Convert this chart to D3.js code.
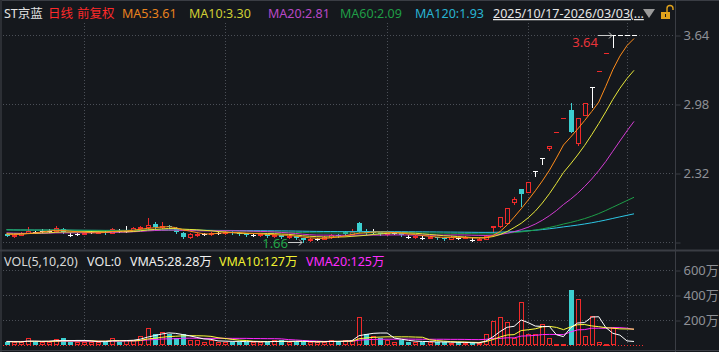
<!DOCTYPE html>
<html lang="zh">
<head>
<meta charset="UTF-8">
<title>ST京蓝 日线</title>
<script src="https://d3js.org/d3.v7.min.js"></script>
<style>
  html, body { margin: 0; padding: 0; background: #15181d; }
  svg { display: block; font-family: "Noto Sans", "Noto Sans CJK SC", sans-serif; }
</style>
</head>
<body>
<div id="chart"></div>
<script>
// daily bars 2025/10/17 - 2026/03/03 (前复权), volume in 万股
var opens = [1.74,1.72,1.73,1.75,1.76,1.77,1.77,1.77,1.78,1.73, 1.74,1.74,1.76,1.75,1.76,1.75,1.77,1.77,1.77,1.79,
             1.80,1.83,1.80,1.81,1.79,1.75,1.71,1.73,1.74,1.74, 1.75,1.75,1.76,1.75,1.74,1.73,1.73,1.74,1.72,1.73,
             1.71,1.72,1.70,1.68,1.69,1.69,1.71,1.73,1.76,1.74, 1.84,1.77,1.76,1.76,1.74,1.75,1.75,1.71,1.71,1.70,
             1.70,1.71,1.70,1.69,1.70,1.70,1.68,1.68,1.69,1.80, 1.81,1.84,2.04,2.17,2.14,2.34,2.46,2.56,2.71,2.85,
             2.92,2.61,2.87,3.14,3.30,3.47,3.64,3.64,3.64,3.64];
var highs = [1.75,1.74,1.76,1.80,1.77,1.78,1.78,1.81,1.79,1.75, 1.75,1.76,1.77,1.77,1.77,1.79,1.78,1.81,1.80,1.81,
             1.89,1.85,1.85,1.82,1.80,1.76,1.75,1.75,1.75,1.76, 1.76,1.77,1.77,1.76,1.75,1.74,1.75,1.74,1.74,1.73,
             1.73,1.72,1.70,1.70,1.70,1.72,1.74,1.74,1.77,1.78, 1.85,1.78,1.78,1.76,1.76,1.76,1.75,1.73,1.73,1.72,
             1.72,1.71,1.70,1.72,1.71,1.72,1.70,1.70,1.73,1.81, 1.90,1.99,2.09,2.17,2.23,2.34,2.46,2.58,2.71,2.85,
             2.99,2.85,2.99,3.14,3.30,3.47,3.64,3.64,3.64,3.64];
var lows = [1.72,1.71,1.73,1.75,1.75,1.76,1.76,1.77,1.75,1.72, 1.73,1.74,1.75,1.75,1.74,1.75,1.76,1.76,1.77,1.78,
            1.79,1.79,1.79,1.79,1.75,1.70,1.70,1.72,1.73,1.73, 1.74,1.74,1.74,1.73,1.72,1.72,1.72,1.71,1.71,1.70,
            1.70,1.69,1.66,1.67,1.68,1.69,1.70,1.71,1.73,1.74, 1.76,1.74,1.75,1.73,1.73,1.74,1.72,1.70,1.70,1.69,
            1.70,1.69,1.68,1.69,1.69,1.70,1.67,1.68,1.69,1.76, 1.80,1.84,2.02,2.00,2.14,2.29,2.41,2.54,2.71,2.85,
            2.71,2.59,2.87,2.95,3.30,3.47,3.53,3.64,3.64,3.64];
var closes = [1.72,1.73,1.75,1.77,1.76,1.77,1.77,1.79,1.76,1.73, 1.74,1.75,1.76,1.76,1.75,1.78,1.77,1.77,1.79,1.80,
              1.82,1.80,1.81,1.80,1.76,1.71,1.74,1.74,1.74,1.75, 1.75,1.76,1.75,1.74,1.73,1.73,1.74,1.72,1.73,1.71,
              1.72,1.70,1.68,1.69,1.69,1.71,1.73,1.72,1.74,1.76, 1.77,1.75,1.76,1.74,1.75,1.75,1.73,1.71,1.72,1.70,
              1.71,1.70,1.69,1.71,1.70,1.71,1.68,1.69,1.72,1.81, 1.90,1.99,2.07,2.12,2.23,2.34,2.46,2.58,2.71,2.85,
              2.71,2.85,2.99,3.14,3.30,3.47,3.64,3.64,3.64,3.64];
var volumes = [27,23,23,56,27,21,27,45,56,27, 27,27,27,27,27,56,27,40,40,72,
               136,88,101,88,53,88,37,37,27,37, 27,27,27,27,27,27,21,27,37,40,
               21,27,27,27,21,27,40,27,40,40, 226,88,72,53,40,27,40,27,21,27,
               21,27,27,13,21,16,16,16,88,192, 225,187,55,341,85,90,170,55,10,10,
               440,365,72,230,24,8,133,0,0,0];
// bars before the window, only used by the moving averages
var preCloses = [1.86,1.85,1.86,1.84,1.83,1.84,1.82,1.83,1.81,1.80, 1.80,1.79,1.78,1.77,1.76,1.76,1.75,1.74,1.75,1.74,
                 1.73,1.74,1.75,1.74,1.73,1.74,1.75,1.74,1.73,1.74];
var preVolumes = [35,28,30,42,26,31,24,29,38,27,22,30,26,33,28,25,31,27,24];

var monthStarts = [11, 31, 54, 74, 88];          // first bar of Nov, Dec, Jan, Feb, Mar
var priceTicks = [3.64, 2.98, 2.32, 1.66];
var priceLabels = ["3.64", "2.98", "2.32", ""];
var volTicks = [600, 400, 200];
var volLabels = ["600万", "400万", "200万"];

var RED = "#f02a2a", CYAN = "#3ccfd0", WHITE = "#ffffff";
var GRID = "#4b4f57", BORDER = "#3a3d44", AXIS_TEXT = "#8e9096";

var width = 719, height = 352;
var n = closes.length;

var svg = d3.select("#chart").append("svg")
    .attr("width", width)
    .attr("height", height);

svg.append("rect").attr("width", width).attr("height", height).attr("fill", "#15181d");

var x = d3.scaleLinear().domain([0, n - 1]).range([6.5, 634]);
var y = d3.scaleLinear().domain([1.66, 3.64]).range([242, 35]);
var yv = d3.scaleLinear().domain([0, 600]).range([345, 270]);

function movingAvg(pre, data, len) {
    var all = pre.concat(data);
    return data.map(function(d, i) {
        var end = pre.length + i, start = Math.max(0, end - len + 1), s = 0;
        for (var k = start; k <= end; k++) s += all[k];
        return s / (end - start + 1);
    });
}

// borders
svg.append("line").attr("x1", 0).attr("x2", width).attr("y1", 0.5).attr("y2", 0.5).attr("stroke", BORDER);
svg.append("rect").attr("x", 0).attr("y", 0).attr("width", 2).attr("height", height).attr("fill", "#2c2f35");
svg.append("line").attr("x1", 0).attr("x2", width).attr("y1", 250.5).attr("y2", 250.5).attr("stroke", BORDER).attr("stroke-width", 2);
svg.append("line").attr("x1", 0).attr("x2", width).attr("y1", 350.5).attr("y2", 350.5).attr("stroke", BORDER);

// grid
var grid = svg.append("g").attr("stroke", GRID).attr("stroke-dasharray", "1,2");
grid.selectAll(".hp").data(priceTicks).enter().append("line")
    .attr("x1", 3).attr("x2", 675)
    .attr("y1", function(d) { return Math.round(y(d)) + 0.5; })
    .attr("y2", function(d) { return Math.round(y(d)) + 0.5; });
grid.selectAll(".hv").data(volTicks).enter().append("line")
    .attr("x1", 3).attr("x2", 675)
    .attr("y1", function(d) { return Math.round(yv(d)) + 0.5; })
    .attr("y2", function(d) { return Math.round(yv(d)) + 0.5; });
grid.selectAll(".vm").data(monthStarts).enter().append("line")
    .attr("x1", function(d) { return Math.round(x(d)) + 0.5; })
    .attr("x2", function(d) { return Math.round(x(d)) + 0.5; })
    .attr("y1", 23).attr("y2", 250);
grid.selectAll(".vv").data(monthStarts).enter().append("line")
    .attr("x1", function(d) { return Math.round(x(d)) + 0.5; })
    .attr("x2", function(d) { return Math.round(x(d)) + 0.5; })
    .attr("y1", 270).attr("y2", 346);

// axes on the right
svg.append("line").attr("x1", 675.5).attr("x2", 675.5).attr("y1", 0).attr("y2", height).attr("stroke", BORDER);

var yAxis = d3.axisRight(y).tickValues(priceTicks)
    .tickFormat(function(d, i) { return priceLabels[i]; })
    .tickSize(5).tickPadding(3);
var ga = svg.append("g").attr("transform", "translate(675.5,0.5)").call(yAxis);

var vAxis = d3.axisRight(yv).tickValues(volTicks)
    .tickFormat(function(d, i) { return volLabels[i]; })
    .tickSize(5).tickPadding(3);
var gv = svg.append("g").attr("transform", "translate(675.5,0.5)").call(vAxis);

[ga, gv].forEach(function(g) {
    g.select(".domain").remove();
    g.selectAll(".tick line").attr("stroke", BORDER);
    g.selectAll(".tick text").attr("fill", AXIS_TEXT).attr("font-size", "13px")
        .attr("font-family", "'Noto Sans', 'Noto Sans CJK SC', sans-serif");
});

// candles
var days = d3.range(n).map(function(i) {
    return { i: i, o: opens[i], h: highs[i], l: lows[i], c: closes[i], v: volumes[i],
             pc: i > 0 ? closes[i - 1] : preCloses[preCloses.length - 1] };
});

var candles = svg.append("g");
days.forEach(function(d) {
    var px = Math.round(x(d.i));
    var yo = Math.round(y(d.o)), yc = Math.round(y(d.c));
    var yh = Math.round(y(d.h)), yl = Math.round(y(d.l));
    var top = Math.min(yo, yc), bot = Math.max(yo, yc);
    if (d.c > d.o) {
        if (yh < top) candles.append("line").attr("x1", px + 0.5).attr("x2", px + 0.5).attr("y1", yh).attr("y2", top).attr("stroke", RED);
        if (yl > bot) candles.append("line").attr("x1", px + 0.5).attr("x2", px + 0.5).attr("y1", bot + 1).attr("y2", yl + 1).attr("stroke", RED);
        candles.append("rect").attr("x", px - 1.5).attr("y", top + 0.5)
            .attr("width", 4).attr("height", Math.max(bot - top, 1))
            .attr("fill", "#15181d").attr("stroke", RED);
    } else if (d.c < d.o) {
        candles.append("line").attr("x1", px + 0.5).attr("x2", px + 0.5).attr("y1", yh).attr("y2", yl + 1).attr("stroke", CYAN);
        candles.append("rect").attr("x", px - 2).attr("y", top)
            .attr("width", 5).attr("height", Math.max(bot - top, 1)).attr("fill", CYAN);
    } else {
        var col = (d.h === d.l && d.c > d.pc) ? RED : WHITE;
        if (yh !== yl) candles.append("line").attr("x1", px + 0.5).attr("x2", px + 0.5).attr("y1", yh).attr("y2", yl + 1).attr("stroke", col);
        candles.append("line").attr("x1", px - 2).attr("x2", px + 3).attr("y1", yc + 0.5).attr("y2", yc + 0.5).attr("stroke", col);
    }
});

// moving averages
var maDefs = [
    { len: 120, color: "#2cc6e4" },
    { len: 60, color: "#1d9e48" },
    { len: 20, color: "#d23cd2" },
    { len: 10, color: "#e6e63a" },
    { len: 5, color: "#ff8c1a" }
];
var line = d3.line().x(function(d, i) { return x(i); }).y(function(d) { return y(d); });
maDefs.forEach(function(m) {
    svg.append("path").datum(movingAvg(preCloses, closes, m.len))
        .attr("d", line).attr("fill", "none").attr("stroke", m.color).attr("stroke-width", 1);
});

// highest / lowest markers
var iMax = d3.maxIndex(highs), iMin = d3.minIndex(lows);
var mx = Math.round(x(iMax)), my = Math.round(y(highs[iMax])) + 0.5;
svg.append("path").attr("d", "M" + (mx - 15) + "," + my + "H" + (mx - 1) + "M" + (mx - 4) + "," + (my - 3) + "L" + (mx - 1) + "," + my + "L" + (mx - 4) + "," + (my + 3))
    .attr("stroke", "#c8c8c8").attr("fill", "none");
svg.append("text").attr("x", mx - 15).attr("y", my + 11).attr("text-anchor", "end")
    .attr("fill", "#e8343a").attr("font-size", "13px").text(highs[iMax].toFixed(2));
var nx = Math.round(x(iMin)), ny = Math.round(y(lows[iMin])) + 0.5;
svg.append("path").attr("d", "M" + (nx - 15) + "," + ny + "H" + (nx - 1) + "M" + (nx - 4) + "," + (ny - 3) + "L" + (nx - 1) + "," + ny + "L" + (nx - 4) + "," + (ny + 3))
    .attr("stroke", "#c8c8c8").attr("fill", "none");
svg.append("text").attr("x", nx - 15).attr("y", ny + 5).attr("text-anchor", "end")
    .attr("fill", "#22a548").attr("font-size", "13px").text(lows[iMin].toFixed(2));

// volume bars
svg.append("line").attr("x1", 3).attr("x2", 643).attr("y1", 345.5).attr("y2", 345.5)
    .attr("stroke", RED).attr("stroke-dasharray", "1,2");
var vol = svg.append("g");
days.forEach(function(d) {
    if (d.v <= 0) return;
    var px = Math.round(x(d.i)), vy = Math.round(yv(d.v));
    if (d.c >= d.pc) {
        vol.append("rect").attr("x", px - 1.5).attr("y", vy + 0.5).attr("width", 4)
            .attr("height", Math.max(345 - vy - 1, 1)).attr("fill", "#15181d").attr("stroke", RED);
    } else {
        vol.append("rect").attr("x", px - 2).attr("y", vy).attr("width", 5)
            .attr("height", Math.max(345 - vy, 1)).attr("fill", CYAN);
    }
});
var vmaDefs = [
    { len: 20, color: "#ff28ff" },
    { len: 10, color: "#ffff3c" },
    { len: 5, color: "#ffffff" }
];
var vline = d3.line().x(function(d, i) { return x(i); }).y(function(d) { return yv(d); });
vmaDefs.forEach(function(m) {
    svg.append("path").datum(movingAvg(preVolumes, volumes, m.len))
        .attr("d", vline).attr("fill", "none").attr("stroke", m.color).attr("stroke-width", 1);
});

// header texts
var head = svg.append("g").attr("font-size", "12.5px");
var headItems = [
    { t: "ST京蓝", x: 4, c: "#e2e2e2" },
    { t: "日线", x: 48, c: "#ff2a2a" },
    { t: "前复权", x: 77, c: "#ff2a2a" },
    { t: "MA5:3.61", x: 122, c: "#e8821e" },
    { t: "MA10:3.30", x: 189, c: "#cfcf34" },
    { t: "MA20:2.81", x: 268, c: "#b848c8" },
    { t: "MA60:2.09", x: 340, c: "#1f9e46" },
    { t: "MA120:1.93", x: 415, c: "#28b4d2" }
];
headItems.forEach(function(h) {
    head.append("text").attr("x", h.x).attr("y", 18).attr("fill", h.c).text(h.t);
});
head.append("text").attr("x", 493).attr("y", 18).attr("fill", "#e6e6e6")
    .attr("text-decoration", "underline").text("2025/10/17-2026/03/03(...");
svg.append("path").attr("d", "M643,9H655L649,18Z").attr("fill", "#9a9a9a");
svg.append("rect").attr("x", 661).attr("y", 12).attr("width", 9).attr("height", 7).attr("fill", "#e0a21c");
svg.append("path").attr("d", "M667,12V8.5A3,3 0 0 1 673,8.5V10").attr("fill", "none").attr("stroke", "#e0a21c").attr("stroke-width", 1.4);
svg.append("rect").attr("x", 665).attr("y", 14).attr("width", 1).attr("height", 3).attr("fill", "#15181d");

var vhead = svg.append("g").attr("font-size", "12.5px");
var vItems = [
    { t: "VOL(5,10,20)", x: 4, c: "#d8d8d8" },
    { t: "VOL:0", x: 87, c: "#e8e8e8" },
    { t: "VMA5:28.28万", x: 130, c: "#f0f0f0" },
    { t: "VMA10:127万", x: 219, c: "#f0f030" },
    { t: "VMA20:125万", x: 306, c: "#ff2cff" }
];
vItems.forEach(function(h) {
    vhead.append("text").attr("x", h.x).attr("y", 266).attr("fill", h.c).text(h.t);
});
</script>
</body>
</html>
